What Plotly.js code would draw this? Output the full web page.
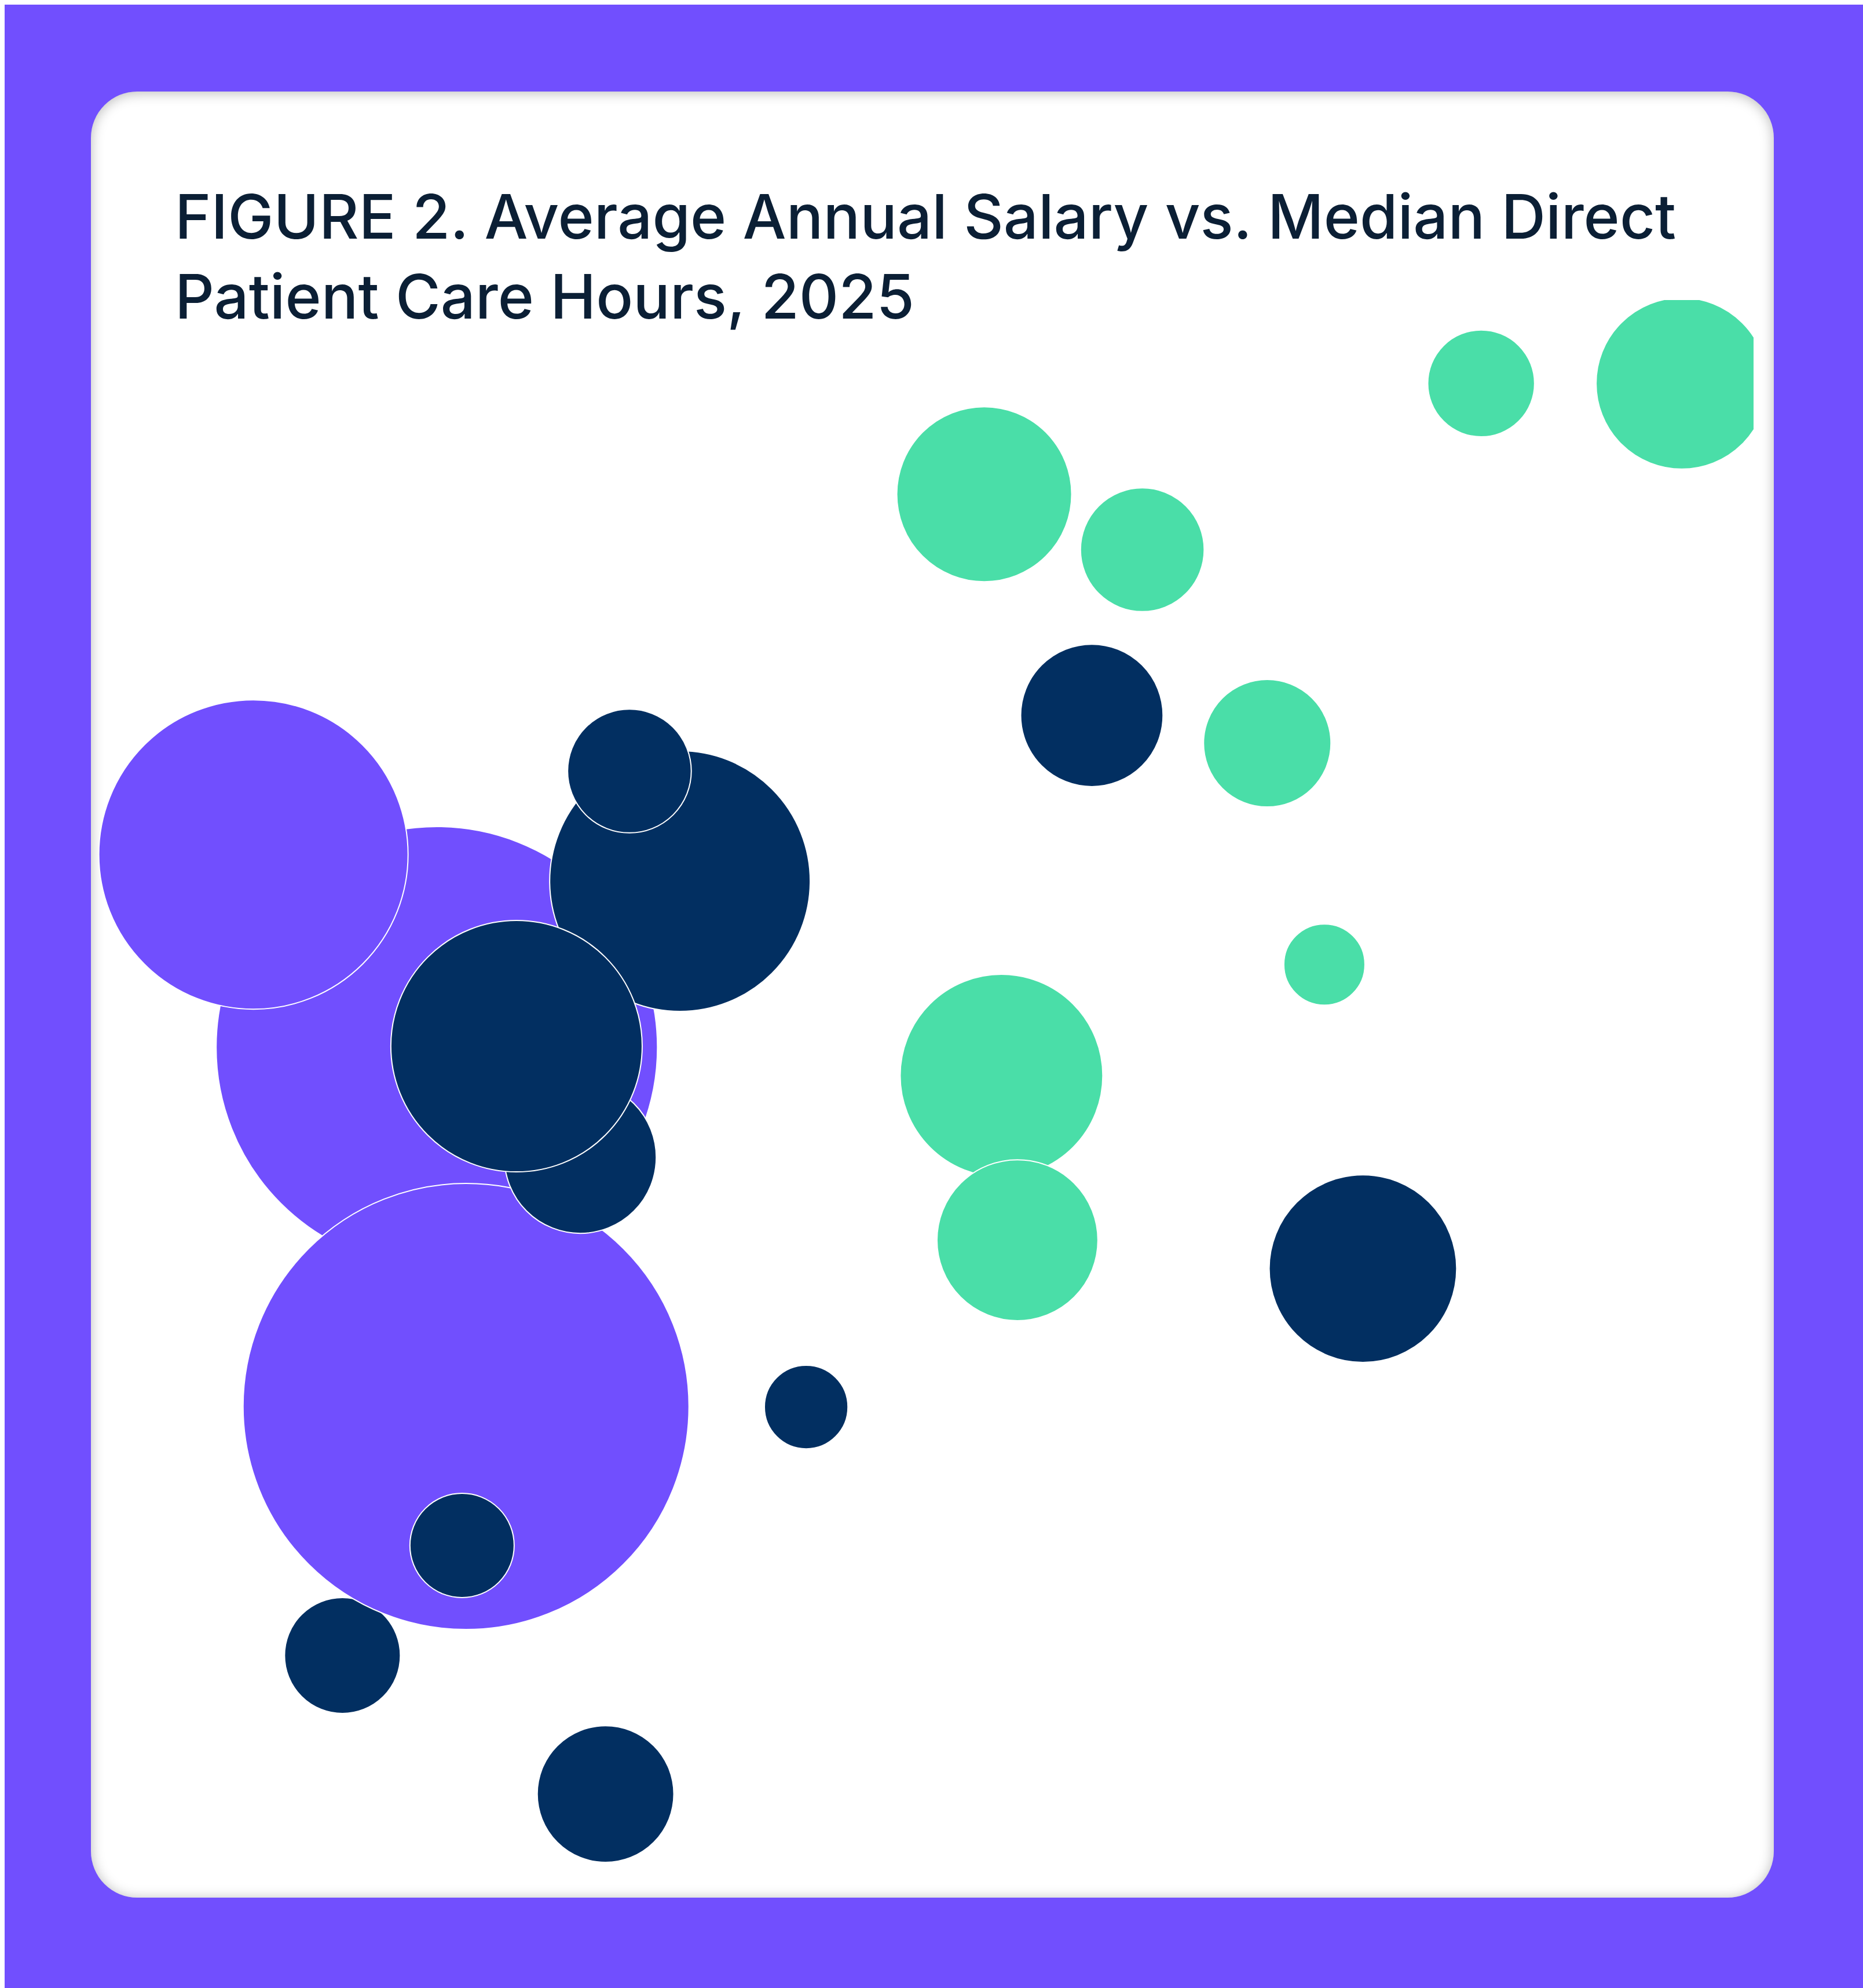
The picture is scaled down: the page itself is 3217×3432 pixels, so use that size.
<!DOCTYPE html>
<html>
<head>
<meta charset="utf-8" />
<script src="https://cdn.plot.ly/plotly-3.0.1.min.js"></script>
<style>
  html, body { margin: 0; padding: 0; background: #ffffff; overflow: hidden; }
  .rahmen {
    position: absolute;
    left: 8px;
    top: 8px;
    width: 3209px;
    height: 3424px;
    background: #714ffe;
  }
  .karte {
    position: absolute;
    left: 149px;
    top: 150px;
    width: 2906px;
    height: 3118px;
    background: #ffffff;
    border-radius: 80px;
    box-shadow: inset 0 2px 22px rgba(0, 0, 0, 0.28);
    overflow: hidden;
  }
  #chart { width: 2906px; height: 3118px; }
</style>
</head>
<body>
<div class="rahmen">
  <div class="karte">
    <div id="chart"></div>
  </div>
</div>
<script>
  // draw order matters: later points sit on top of earlier ones
  const groups = [
    "C", "A", "A", "A", "C", "C", "C", "C", "C", "C", "C",
    "C", "C", "B", "B", "B", "B", "B", "B", "B", "B"
  ];
  const careHours = [
    1188, 1259, 1281, 1121, 1442, 1404, 1367, 1319, 1278, 1386, 1537,
    1752, 1956, 2045, 2196, 1671, 1790, 1884, 1927, 1684, 1696
  ];
  const salary = [
    59650, 113650, 81760, 130770, 128410, 138180, 103880, 113750, 69420, 47350, 81710,
    143120, 94000, 172600, 172600, 162760, 157830, 140650, 121000, 111130, 96520
  ];
  const headcount = [
    100, 1452, 1482, 713, 506, 114, 172, 471, 81, 139, 52,
    151, 262, 85, 219, 228, 114, 121, 49, 306, 193
  ];

  const groupColors = { A: "#714ffe", B: "#4adea8", C: "#022f61" };

  const trace = {
    x: careHours,
    y: salary,
    mode: "markers",
    type: "scatter",
    marker: {
      size: headcount,
      sizemode: "area",
      sizeref: 0.005,
      color: groups.map((g) => groupColors[g]),
      opacity: 1,
      line: { color: "#ffffff", width: 2 },
    },
    hoverinfo: "none",
    showlegend: false,
  };

  const layout = {
    width: 2906,
    height: 3118,
    paper_bgcolor: "rgba(0,0,0,0)",
    plot_bgcolor: "rgba(0,0,0,0)",
    margin: { l: 3, r: 35, t: 360, b: 36 },
    title: {
      text: "FIGURE 2. Average Annual Salary vs. Median Direct<br>Patient Care Hours, 2025",
      x: 0.0499,
      xanchor: "left",
      y: 0.9186,
      yanchor: "top",
      font: { family: "Inter, 'Noto Sans', sans-serif", size: 106, color: "#0b1f35", weight: 500 },
    },
    xaxis: { visible: false, range: [1000, 2250], showgrid: false, zeroline: false },
    yaxis: { visible: false, range: [40000, 180000], showgrid: false, zeroline: false },
    showlegend: false,
  };

  Plotly.newPlot("chart", [trace], layout, { displayModeBar: false, staticPlot: true });
</script>
</body>
</html>
